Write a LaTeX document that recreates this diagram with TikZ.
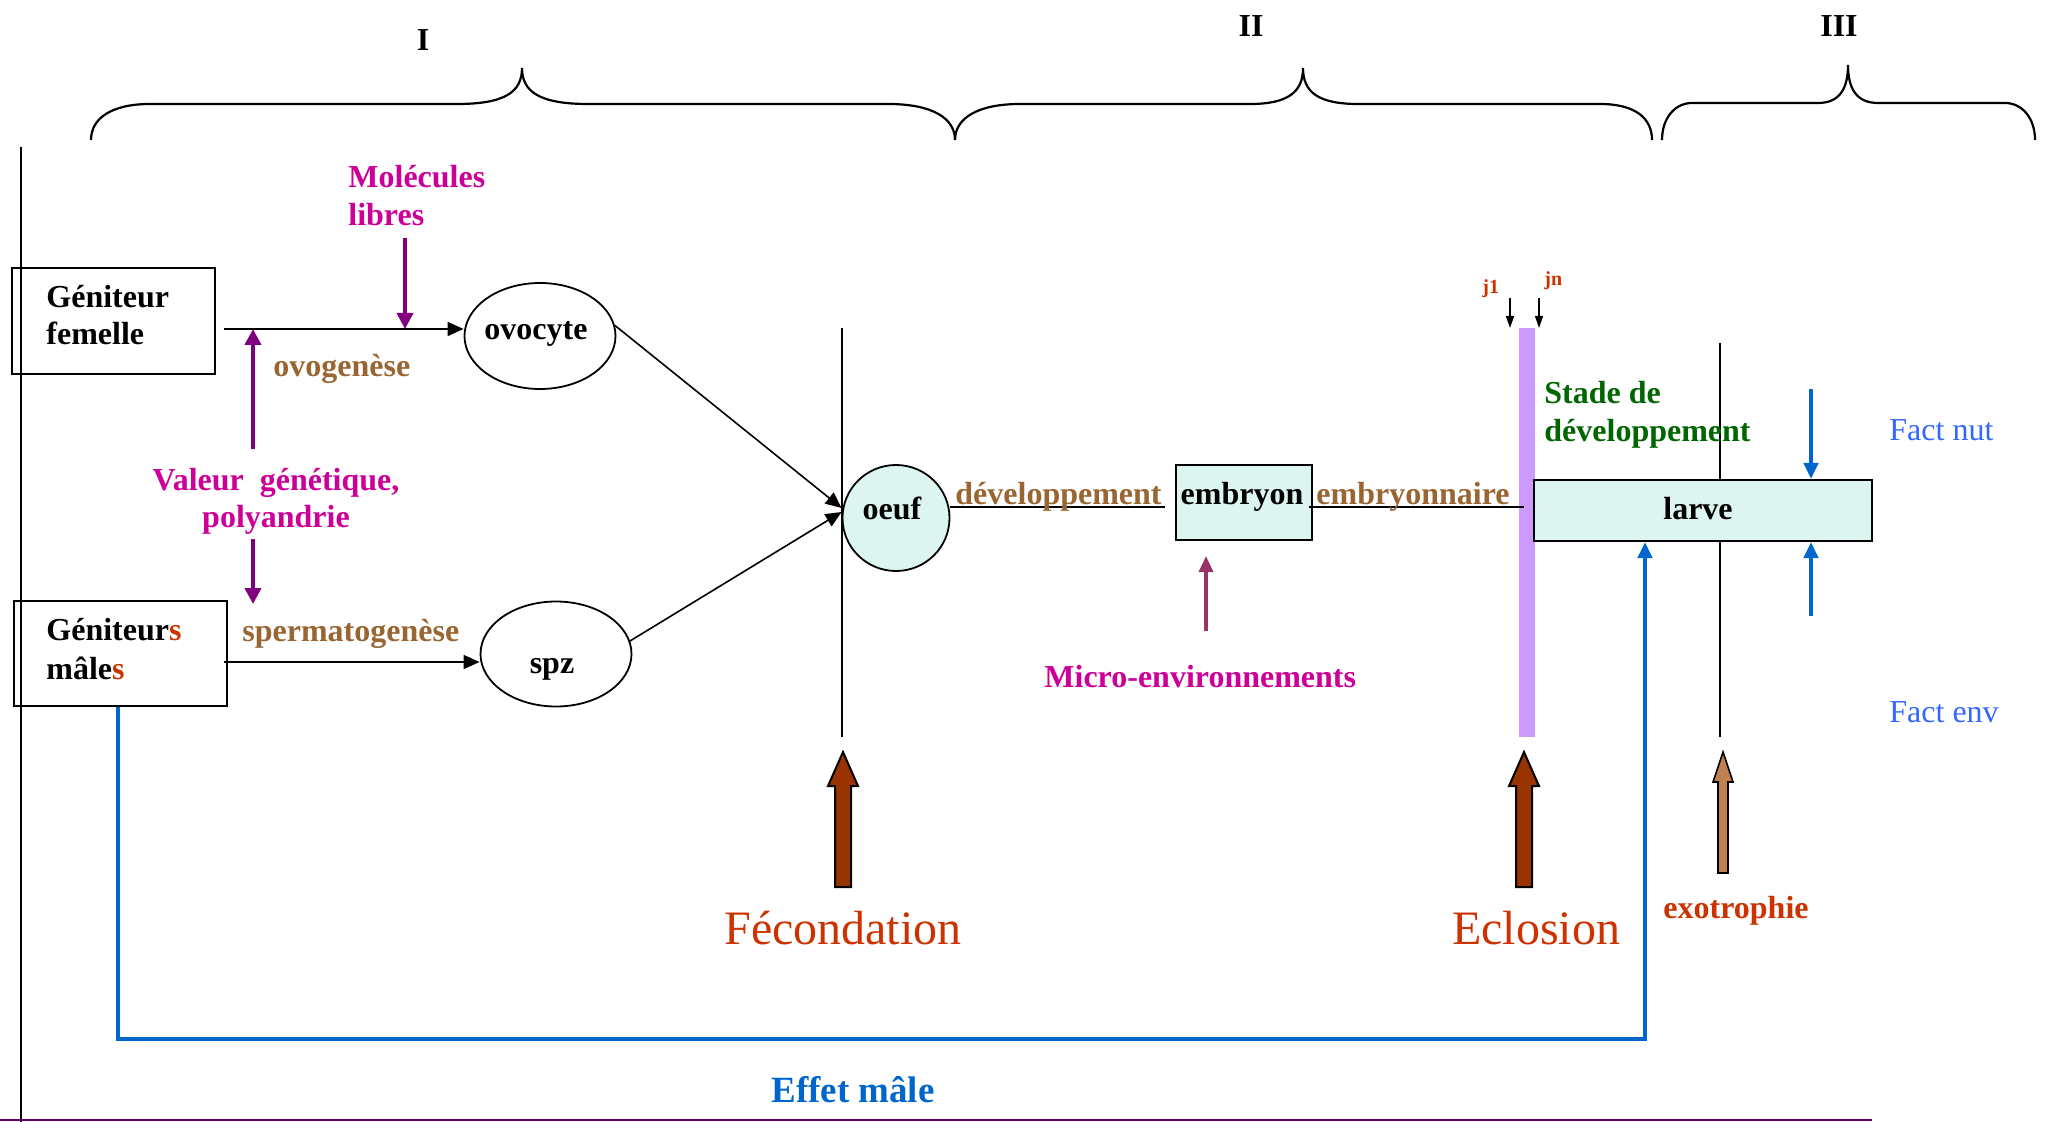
\documentclass[tikz,border=0pt]{standalone}
\usepackage{fontspec}
\setmainfont{Liberation Serif}
\usetikzlibrary{arrows.meta,shapes.geometric}
\definecolor{magt}{HTML}{CC0099}
\definecolor{brownt}{HTML}{996633}
\definecolor{purA}{HTML}{800080}
\definecolor{microA}{HTML}{993366}
\definecolor{greent}{HTML}{006600}
\definecolor{factb}{HTML}{3366FF}
\definecolor{blueA}{HTML}{0066CC}
\definecolor{redor}{HTML}{CC3300}
\definecolor{arrbrown}{HTML}{993300}
\definecolor{tanA}{HTML}{C08052}
\definecolor{barp}{HTML}{CC99FF}
\definecolor{cyanf}{HTML}{DDF5F0}
\definecolor{botline}{HTML}{660066}
\tikzset{
  lbl/.style={inner sep=0pt, font=\bfseries\fontsize{16}{18}\selectfont},
  rlbl/.style={inner sep=0pt, font=\fontsize{16}{18}\selectfont},
  big/.style={inner sep=0pt, font=\fontsize{24}{28}\selectfont, text=redor},
  small/.style={inner sep=0pt, font=\bfseries\fontsize{10}{12}\selectfont, text=redor},
  boxn/.style={draw, line width=1pt, rectangle, inner sep=0pt},
  elln/.style={draw, line width=0.9pt, ellipse, inner sep=0pt},
  arr/.style={line width=0.8pt, -{Triangle[length=8pt,width=7pt]}},
  thin/.style={line width=0.7pt},
  parr/.style={line width=2pt, purA, -{Triangle[length=8pt,width=8pt]}},
  barr/.style={line width=2pt, blueA, -{Triangle[length=8pt,width=7pt]}},
  brace/.style={line width=1.1pt},
  blockarr/.style={draw=black, line width=1pt, line join=miter},
}
\begin{document}
\begin{tikzpicture}[x=0.5pt,y=-0.5pt]
\useasboundingbox (0,0) rectangle (2049,1122);

% braces
\draw[brace] (91,140) .. controls (91,118) and (112,104) .. (150,104) -- (457,104)
  .. controls (505,104) and (522,92) .. (522,68) .. controls (522,92) and (540,104) .. (588,104)
  -- (888,104) .. controls (932,104) and (955,118) .. (955,140);
\draw[brace] (955,140) .. controls (955,118) and (978,104) .. (1020,104) -- (1250,104)
  .. controls (1288,104) and (1303,92) .. (1303,68) .. controls (1303,92) and (1318,104) .. (1358,104)
  -- (1600,104) .. controls (1635,104) and (1652,118) .. (1652,140);
\draw[brace] (1662,140) .. controls (1662,118) and (1675,103) .. (1692,103) -- (1818,103)
  .. controls (1840,103) and (1848,88) .. (1848,65) .. controls (1848,88) and (1856,103) .. (1878,103)
  -- (2005,103) .. controls (2022,103) and (2035,118) .. (2035,140);
\node[lbl, anchor=base] (tI) at (423,51) {I};
\node[lbl, anchor=base] (tII) at (1251,37) {II};
\node[lbl, anchor=base] (tIII) at (1839,37) {III};

% left frame line and bottom line
\draw[thin] (21,147) -- (21,1122);
\draw[line width=1pt, botline] (0,1120) -- (1872,1120);

% vertical lines
\draw[thin] (842,328) -- (842,737);
\draw[thin] (1720,343) -- (1720,737);

% purple bar
\fill[barp] (1519,328) rectangle (1535,737);

% boxes
\node[boxn, minimum width=101.5pt, minimum height=53pt] (gf) at (113.5,321) {};
\node[lbl, anchor=base west] (gf1) at (46,308) {Géniteur};
\node[lbl, anchor=base west] (gf2) at (46,345) {femelle};
\node[boxn, minimum width=106.5pt, minimum height=52.5pt] (gm) at (120.5,653.5) {};
\node[lbl, anchor=base west] (gm1) at (46,640) {Géniteur\textcolor{redor}{s}};
\node[lbl, anchor=base west] (gm2) at (46,679) {mâle\textcolor{redor}{s}};

% ellipses
\node[elln, minimum width=75.5pt, minimum height=53pt] (ovo) at (540,336) {};
\node[lbl, anchor=base] (ovot) at (536,340) {ovocyte};
\node[elln, minimum width=75.5pt, minimum height=52.5pt] (spz) at (556,654) {};
\node[lbl, anchor=base] (spzt) at (552,673) {spz};
\node[elln, fill=cyanf, minimum width=53.5pt, minimum height=53pt] (oeuf) at (896,518) {};
\node[lbl, anchor=base] (oeuft) at (892,520) {oeuf};

\node[boxn, fill=cyanf, minimum width=68pt, minimum height=37.5pt] (emb) at (1244,502.5) {};
\node[lbl, anchor=base] (embt) at (1242,505) {embryon};
\node[boxn, fill=cyanf, minimum width=169pt, minimum height=30.5pt] (larve) at (1703,510.5) {};
\node[lbl, anchor=base] (larvet) at (1698,520) {larve};

% arrows from genitors
\coordinate (fline) at (0,329);
\coordinate (mline) at (0,662);
\draw[arr] ([xshift=4pt]gf.east |- fline) -- (ovo.west |- fline);
\draw[arr] ([xshift=-2pt]gm.east |- mline) -- (spz.west |- mline);

% to oeuf
\draw[arr] (ovo.8) -- ([yshift=5pt]oeuf.west);
\draw[arr] (spz.10) -- ([yshift=3pt]oeuf.west);

% development lines
\coordinate (dev) at (0,507);
\coordinate (devend) at (1165,507);
\coordinate (embend) at (1524,507);
\draw[line width=1pt] (oeuf.east |- dev) -- (devend);
\draw[line width=1pt] ([xshift=-2pt]emb.east |- dev) -- (embend);
\node[lbl, text=brownt, anchor=base west] (devt) at (955,505) {développement};
\node[lbl, text=brownt, anchor=base west] (embryt) at (1316,505) {embryonnaire};

% purple arrows
\node[lbl, text=magt, anchor=base west] (mol1) at (348,188) {Molécules};
\node[lbl, text=magt, anchor=base west] (mol2) at (348,226) {libres};
\coordinate (molA) at (405,238);
\draw[parr] (molA) -- (molA |- fline);
\node[lbl, text=brownt, anchor=base west] (ovog) at (273,377) {ovogenèse};
\node[lbl, text=magt, anchor=base] (val1) at (276,491) {Valeur\ \ génétique,};
\node[lbl, text=magt, anchor=base] (val2) at (276,528) {polyandrie};
\coordinate (valA) at (253,449);
\coordinate (valB) at (253,539);
\coordinate (valC) at (253,604);
\draw[parr] (valA) -- (valA |- fline);
\draw[parr] (valB) -- (valC);
\node[lbl, text=brownt, anchor=base west] (sperm) at (242,641) {spermatogenèse};

% micro-environnements
\coordinate (micA) at (1206,631);
\coordinate (micB) at (1206,556);
\draw[line width=1.6pt, microA, -{Triangle[length=8pt,width=7pt]}] (micA) -- (micB);
\node[lbl, text=magt, anchor=base west] (mic) at (1044,687) {Micro-environnements};

% j1 jn
\node[small, anchor=base west] (j1) at (1482,294) {j1};
\node[small, anchor=base west] (jn) at (1544,286) {jn};
\draw[line width=0.9pt, -{Triangle[length=6pt,width=4pt]}] (1510,298) -- (1510,328);
\draw[line width=0.6pt, -{Triangle[length=6pt,width=4pt]}] (1539,298) -- (1539,328);

% stade de developpement
\node[lbl, text=greent, anchor=base west] (st1) at (1544,404) {Stade de};
\node[lbl, text=greent, anchor=base west] (st2) at (1544,442) {développement};

% fact
\node[rlbl, text=factb, anchor=base west] (fn) at (1889,441) {Fact nut};
\node[rlbl, text=factb, anchor=base west] (fe) at (1889,722) {Fact env};
\coordinate (fnA) at (1811,389);
\coordinate (feA) at (1811,616);
\draw[barr] (fnA) -- (fnA |- larve.north);
\draw[barr] (feA) -- (feA |- larve.south);

% effet male
\coordinate (em1) at (118,1039);
\coordinate (em2) at (1645,1039);
\draw[line width=2.2pt, blueA, line join=miter, -{Triangle[length=8pt,width=7pt]}] (gm.south -| em1) -- (em1) -- (em2) -- (em2 |- larve.south);
\node[lbl, text=blueA, font=\bfseries\fontsize{18.5}{22}\selectfont, anchor=base] (eff) at (853,1102) {Effet mâle};

% block arrows
\draw[blockarr, fill=arrbrown] (843,752) -- (858,786) -- (851,786) -- (851,887) -- (835,887) -- (835,786) -- (828,786) -- cycle;
\draw[blockarr, fill=arrbrown] (1524,752) -- (1539,786) -- (1532,786) -- (1532,887) -- (1516,887) -- (1516,786) -- (1509,786) -- cycle;
\draw[blockarr, fill=tanA, line width=0.8pt] (1723,752) -- (1733,782) -- (1728,782) -- (1728,873) -- (1718,873) -- (1718,782) -- (1713,782) -- cycle;
\node[big, anchor=base] (fec) at (843,944) {Fécondation};
\node[big, anchor=base] (ecl) at (1536,944) {Eclosion};
\node[lbl, text=redor, anchor=base] (exo) at (1736,918) {exotrophie};
\end{tikzpicture}
\end{document}
